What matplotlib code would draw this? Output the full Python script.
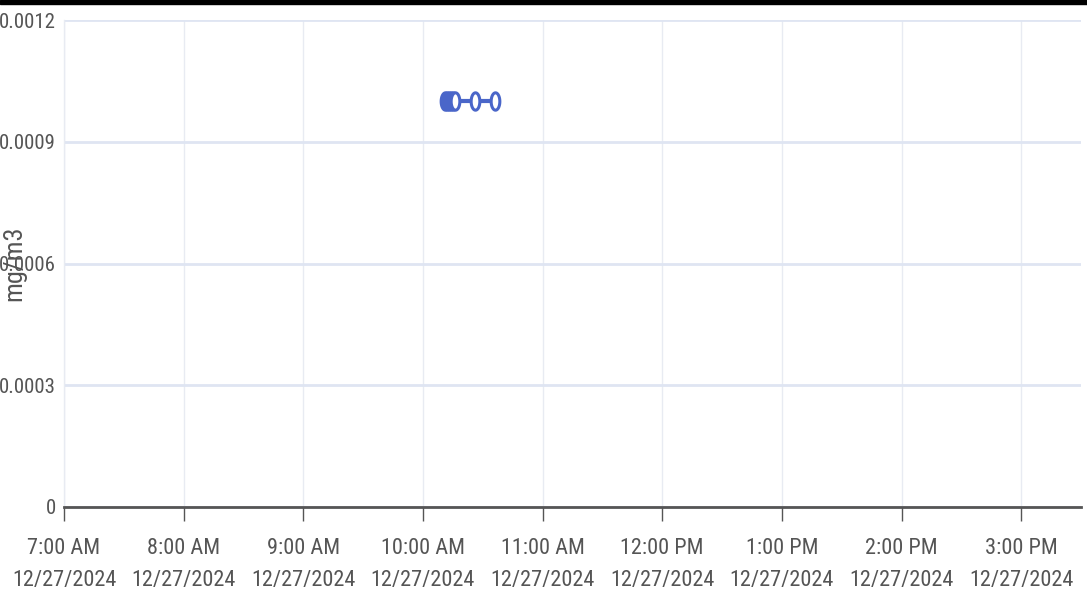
import numpy as np
import pandas as pd
import matplotlib
matplotlib.use('Agg')
import matplotlib.pyplot as plt
import matplotlib.dates as mdates
from matplotlib import font_manager
from matplotlib.path import Path
from matplotlib.patches import Rectangle

# readings (mg/m3) on 12/27/2024
times = ['2024-12-27 10:11', '2024-12-27 10:12', '2024-12-27 10:13', '2024-12-27 10:14',
         '2024-12-27 10:15', '2024-12-27 10:16', '2024-12-27 10:26', '2024-12-27 10:36']
values = [0.001, 0.001, 0.001, 0.001, 0.001, 0.001, 0.001, 0.001]
yticks = [0, 0.0003, 0.0006, 0.0009, 0.0012]
ytick_labels = ['0', '0.0003', '0.0006', '0.0009', '0.0012']
x_start = '2024-12-27 07:00'
x_end = '2024-12-27 15:30'

# use a narrow face if one is around, the chart text is very condensed
names = {f.name for f in font_manager.fontManager.ttflist}
narrow = [n for n in ['Roboto Condensed', 'Liberation Sans Narrow', 'DejaVu Sans Condensed']
          if n in names]
if narrow:
    plt.rcParams['font.family'] = [narrow[0], 'DejaVu Sans']
    fs = 16
else:
    plt.rcParams['font.family'] = ['Liberation Sans', 'DejaVu Sans']
    fs = 13

t = pd.to_datetime(times)

fig = plt.figure(figsize=(10.87, 6.15), dpi=100)
ax = fig.add_axes([64 / 1087, 1 - 507 / 615, (1081 - 64) / 1087, (507 - 20) / 615])

# tall narrow ellipse marker
th = np.linspace(0, 2 * np.pi, 40)
ell = Path(np.column_stack([0.5 * np.cos(th), np.sin(th)]), closed=True)

ax.plot(t, values, color='#4a66c9', lw=3, marker=ell, markersize=12.5,
        markerfacecolor='white', markeredgecolor='#4a66c9', markeredgewidth=2.2, zorder=3)

ax.set_xlim(pd.Timestamp(x_start), pd.Timestamp(x_end))
ax.set_ylim(0, 0.0012)
ax.set_yticks(yticks)
ax.set_yticklabels(ytick_labels)

ax.xaxis.set_major_locator(mdates.HourLocator())
ax.xaxis.set_major_formatter(mdates.DateFormatter('%-I:%M %p\n%m/%d/%Y'))

ax.grid(axis='y', color='#dfe5f2', lw=2)
ax.grid(axis='x', color='#e8ebf2', lw=1)
ax.set_axisbelow(True)

for s in ['top', 'right']:
    ax.spines[s].set_visible(False)
ax.spines['left'].set_color('#e8ebf2')
ax.spines['left'].set_linewidth(1)
ax.spines['bottom'].set_color('#555555')
ax.spines['bottom'].set_linewidth(2)

ax.tick_params(axis='x', length=10, width=1, color='#555555', labelcolor='#555555',
               labelsize=fs, pad=12)
ax.tick_params(axis='y', length=0, labelcolor='#555555', labelsize=fs - 1, pad=6)
for lab in ax.get_xticklabels():
    lab.set_linespacing(1.7)

ax.set_ylabel('mg/m3', color='#555555', fontsize=fs + 3)
ax.yaxis.set_label_coords(-0.037, 0.5)

# dark strip across the top edge
fig.patches.append(Rectangle((0, 1 - 4 / 615), 1, 4 / 615, transform=fig.transFigure,
                             color='black', zorder=10))

fig.savefig('out.png', dpi=100)
